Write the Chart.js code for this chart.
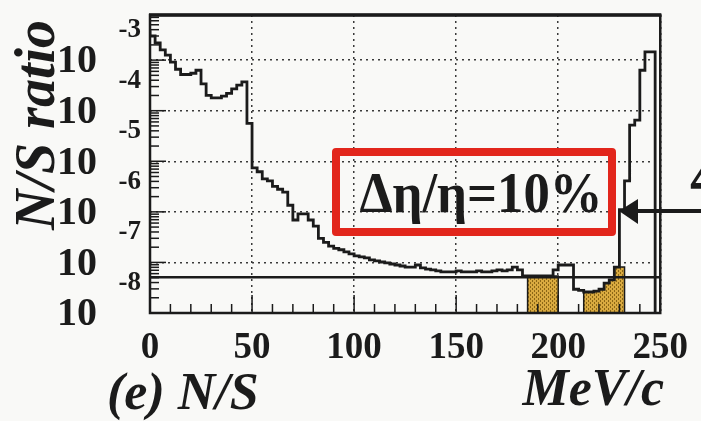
<!DOCTYPE html>
<html>
<head>
<meta charset="utf-8">
<script src="https://cdn.jsdelivr.net/npm/chart.js@4.4.1/dist/chart.umd.min.js"></script>
<style>
  html,body{margin:0;padding:0;background:#f9f9f7;overflow:hidden}
  canvas{display:block}
</style>
</head>
<body>
<canvas id="ns" width="701" height="421"></canvas>
<script>
// bin left edges, MeV/c (2.5 MeV bins)
const binStart = [
  0,2.5,5,7.5,10,12.5,15,17.5,20,22.5,25,27.5,30,32.5,35,37.5,40,42.5,45,47.5,
  50,52.5,55,57.5,60,62.5,65,67.5,70,72.5,75,77.5,80,82.5,85,87.5,90,92.5,95,97.5,
  100,102.5,105,107.5,110,112.5,115,117.5,120,122.5,125,127.5,130,132.5,135,137.5,140,142.5,145,147.5,
  150,152.5,155,157.5,160,162.5,165,167.5,170,172.5,175,177.5,180,182.5,185,187.5,190,192.5,195,197.5,
  200,202.5,205,207.5,210,212.5,215,217.5,220,222.5,225,227.5,230,232.5,235,237.5,240,242.5,245
];
const binEnd = 247.5;
// N/S ratio per bin
const nsRatio = [
  3.9e-3,3.0e-3,2.2e-3,1.6e-3,1.26e-3,9.1e-4,6.6e-4,5.2e-4,5.2e-4,5.5e-4,6.3e-4,3.4e-4,2.0e-4,1.8e-4,1.8e-4,1.95e-4,2.2e-4,2.7e-4,3.2e-4,3.7e-4,
  5.6e-5,7.4e-6,6.2e-6,4.5e-6,4.1e-6,3.2e-6,2.8e-6,2.45e-6,1.35e-6,6.9e-7,9.1e-7,9.1e-7,6.9e-7,5.2e-7,3.0e-7,2.5e-7,2.1e-7,1.9e-7,1.78e-7,1.62e-7,
  1.48e-7,1.35e-7,1.29e-7,1.23e-7,1.12e-7,1.07e-7,1.02e-7,9.8e-8,9.3e-8,8.9e-8,8.5e-8,8.1e-8,8.1e-8,8.9e-8,7.8e-8,7.4e-8,7.1e-8,6.8e-8,6.5e-8,6.5e-8,
  6.5e-8,6.8e-8,6.5e-8,6.5e-8,6.5e-8,6.8e-8,6.5e-8,6.5e-8,6.8e-8,7.1e-8,6.8e-8,7.1e-8,8.1e-8,7.1e-8,5.4e-8,5.4e-8,5.4e-8,5.4e-8,5.4e-8,5.4e-8,
  7.1e-8,8.9e-8,8.9e-8,8.9e-8,2.95e-8,2.8e-8,2.6e-8,2.6e-8,2.7e-8,2.95e-8,3.9e-8,4.5e-8,8.1e-8,1.1e-6,4.1e-6,5.2e-5,6.5e-5,6.3e-4,1.45e-3
];
// shaded (orange) momentum windows
const shadedRanges = [[185,200],[212.5,232.5]];
const limitRatio = 5.1e-8;      // horizontal solid line
const xTicks = [0,50,100,150,200,250];
const yDecades = [-8,-7,-6,-5,-4,-3];
const yMin = 1e-8, yMax = 7.8e-3;
const FLOOR = 1e-10;

const ink = '#1b1b1b';
const serif = "'Liberation Serif', 'DejaVu Serif', serif";

function histPoints(lo, hi){
  const pts = [];
  binStart.forEach((x,i)=>{ if(x>=lo && x<hi) pts.push({x, y:nsRatio[i]}); });
  return pts;
}
const mainPts = [...histPoints(0,binEnd), {x:binEnd, y:nsRatio[nsRatio.length-1]}, {x:binEnd, y:FLOOR}];

function hatch(){
  const p = document.createElement('canvas'); p.width = 4; p.height = 4;
  const g = p.getContext('2d');
  g.fillStyle = '#d9aa40'; g.fillRect(0,0,4,4);
  g.fillStyle = '#8c6716'; g.fillRect(0,0,1,2); g.fillRect(2,2,1,2);
  return g.createPattern(p,'repeat');
}
const orange = hatch();

const shadedSets = shadedRanges.map(([lo,hi])=>{
  const pts = histPoints(lo,hi);
  return {
    data:[{x:lo,y:FLOOR}, ...pts, {x:hi,y:pts[pts.length-1].y}, {x:hi,y:FLOOR}],
    stepped:'after', fill:'start', backgroundColor:orange, borderColor:ink, borderWidth:1.5, pointRadius:0
  };
});

const paper = {
  id:'paper',
  beforeDraw(chart){
    const {ctx} = chart;
    ctx.save(); ctx.fillStyle = '#f9f9f7'; ctx.fillRect(0,0,chart.width,chart.height); ctx.restore();
  },
  afterDatasetsDraw(chart){
    const {ctx, chartArea:a, scales:{x,y}} = chart;
    ctx.save();
    ctx.strokeStyle = ink; ctx.lineWidth = 1.5;
    // inner ticks on x
    for(let v=10; v<250; v+=10){
      const px = x.getPixelForValue(v), len = v%50===0 ? 18 : 9;
      ctx.beginPath(); ctx.moveTo(px,a.bottom); ctx.lineTo(px,a.bottom-len); ctx.stroke();
    }
    // log ticks on y
    yDecades.forEach(d=>{
      for(let m=1; m<10; m++){
        const v = m*Math.pow(10,d);
        if(v<yMin || v>yMax) continue;
        const py = y.getPixelForValue(v), len = m===1 ? 16 : 9;
        ctx.beginPath(); ctx.moveTo(a.left,py); ctx.lineTo(a.left+len,py); ctx.stroke();
      }
    });
    // frame
    ctx.lineWidth = 2.5;
    ctx.strokeRect(a.left, a.top, a.right-a.left, a.bottom-a.top);
    ctx.lineWidth = 3.5;
    ctx.beginPath(); ctx.moveTo(a.left-1,a.top); ctx.lineTo(a.right+1,a.top); ctx.stroke();
    ctx.restore();
  },
  afterDraw(chart){
    const {ctx, scales:{y}} = chart;
    ctx.save();
    ctx.fillStyle = ink;
    // y tick labels 10^n
    yDecades.forEach(d=>{
      const py = y.getPixelForValue(Math.pow(10,d));
      ctx.textAlign = 'right'; ctx.textBaseline = 'middle';
      ctx.font = `bold 40px ${serif}`;
      ctx.fillText('10', 97, py+2);
      ctx.font = `bold 27px ${serif}`;
      ctx.fillText(String(d), 141, py-30);
    });
    // y title
    ctx.save();
    ctx.translate(54,20); ctx.rotate(-Math.PI/2);
    ctx.textAlign = 'right'; ctx.textBaseline = 'alphabetic';
    ctx.font = `italic bold 56px ${serif}`;
    ctx.fillText('N/S ratio', 0, 0);
    ctx.restore();
    // bottom captions
    ctx.textBaseline = 'alphabetic';
    ctx.font = `italic bold 52px ${serif}`;
    ctx.textAlign = 'left';  ctx.fillText('(e) N/S', 107, 409);
    ctx.textAlign = 'right'; ctx.fillText('MeV/c', 664, 405);
    // red annotation box
    ctx.strokeStyle = '#e2261c'; ctx.lineWidth = 8; ctx.lineJoin = 'round';
    ctx.strokeRect(336,152,276,80);
    ctx.fillStyle = ink;
    ctx.font = `bold 58px ${serif}`;
    ctx.textAlign = 'center';
    ctx.fillText('Δη/η=10%', 481, 212, 243);
    // arrow
    ctx.strokeStyle = ink; ctx.lineWidth = 4;
    ctx.beginPath(); ctx.moveTo(634,211); ctx.lineTo(701,211); ctx.stroke();
    ctx.beginPath(); ctx.moveTo(619,211); ctx.lineTo(638,199); ctx.lineTo(638,224); ctx.closePath(); ctx.fill();
    // cut-off glyph at right margin
    ctx.textAlign = 'left';
    ctx.font = `bold 58px ${serif}`;
    ctx.fillText('4', 690, 196);
    ctx.restore();
  }
};

new Chart(document.getElementById('ns'), {
  type:'line',
  data:{ datasets:[
    { data:mainPts, stepped:'after', borderColor:ink, borderWidth:2.8, pointRadius:0, fill:false },
    { data:[{x:0,y:limitRatio},{x:250,y:limitRatio}], borderColor:ink, borderWidth:2.5, pointRadius:0, fill:false },
    ...shadedSets
  ]},
  options:{
    responsive:false, animation:false, devicePixelRatio:1,
    layout:{ padding:{ left:0, top:15, right:38, bottom:0 } },
    plugins:{ legend:{display:false}, tooltip:{enabled:false} },
    scales:{
      x:{ type:'linear', min:0, max:250,
        afterFit:s=>{ s.height = 108; },
        afterBuildTicks:s=>{ s.ticks = xTicks.map(v=>({value:v})); },
        ticks:{ font:{family:serif, weight:'bold', size:37}, color:ink, padding:13, maxRotation:0, autoSkip:false },
        grid:{ color:'#3a3a3a', lineWidth:1.5, drawTicks:false },
        border:{ display:false, dash:[2,4] } },
      y:{ type:'logarithmic', min:yMin, max:yMax,
        afterFit:s=>{ s.width = 150; },
        afterBuildTicks:s=>{ s.ticks = yDecades.map(d=>({value:Math.pow(10,d)})); },
        ticks:{ display:false },
        grid:{ color:'#3a3a3a', lineWidth:1.5, drawTicks:false },
        border:{ display:false, dash:[2,4] } }
    }
  },
  plugins:[paper]
});
</script>
</body>
</html>
